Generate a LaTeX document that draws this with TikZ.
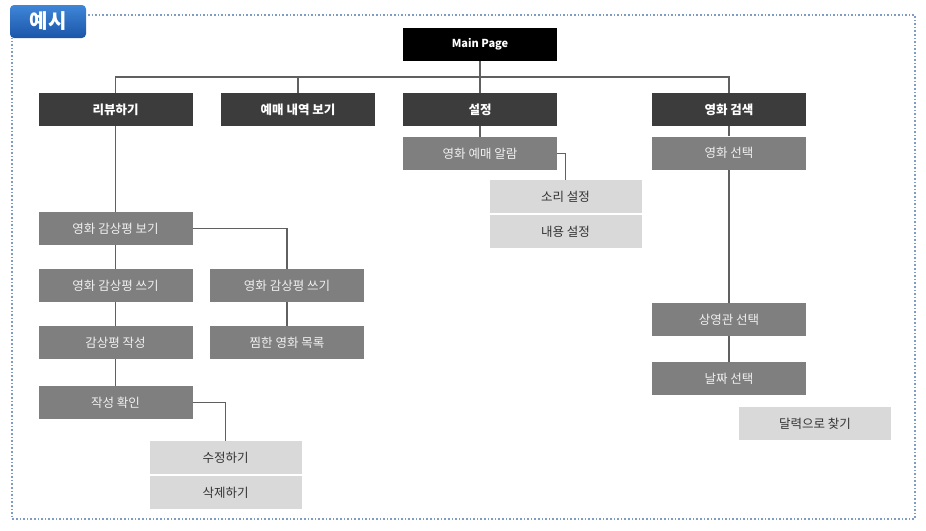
\documentclass[tikz,border=0pt]{standalone}
\usepackage{fontspec}
\setmainfont{Noto Sans CJK KR}
\usepackage{xcolor}
\usetikzlibrary{positioning}

\definecolor{darkbox}{HTML}{3C3C3C}
\definecolor{midbox}{HTML}{7F7F7F}
\definecolor{lightbox}{HTML}{D9D9D9}
\definecolor{linegray}{HTML}{606060}
\definecolor{framecol}{HTML}{7E9CC4}
\definecolor{tagtop}{HTML}{3F86D8}
\definecolor{tagbot}{HTML}{1B55A8}

\begin{document}
\begin{tikzpicture}[x=1pt, y=-1pt,
		box/.style={minimum width=154pt, minimum height=33pt, inner sep=0pt, font=\fontsize{12.5}{14}\selectfont},
		topbox/.style={box, fill=black, text=white, font=\fontsize{11}{13}\selectfont\bfseries},
		mainbox/.style={box, fill=darkbox, text=white, font=\fontsize{12.5}{14}\selectfont\bfseries},
		subbox/.style={box, fill=midbox, text=white!88!gray},
		leafbox/.style={box, minimum width=152pt, fill=lightbox, text=black!80},
		link/.style={draw=linegray, line width=1.3pt},
		frame/.style={draw=framecol, dotted, line width=1.6pt},
		tag/.style={minimum width=76pt, minimum height=33pt, inner sep=0pt, rounded corners=4pt,
			top color=tagtop, bottom color=tagbot, text=white, font=\fontsize{20}{22}\selectfont\bfseries}]
		\useasboundingbox (0,0) rectangle (926,530);
		% frame and tag
		\draw[frame] (88,15) -- (915,15) -- (915,519) -- (12,519) -- (12,38);
		\node[tag] (tag) at (48,21.5) {예시};
		% top levels
		\node[topbox] (main) at (480,44) {Main Page};
		\node[mainbox] (review) at (115.5,109.5) {리뷰하기};
		\node[mainbox] (booking) at (298,109.5) {예매 내역 보기};
		\node[mainbox] (settings) at (480,109.5) {설정};
		\node[mainbox] (search) at (729,109.5) {영화 검색};
		% settings branch
		\node[subbox] (alarm) at (480,153.5) {영화 예매 알람};
		\node[leafbox] (sound) at (565.5,196.5) {소리 설정};
		\node[leafbox] (content) at (565.5,231.5) {내용 설정};
		% search branch
		\node[subbox] (select) at (729,153) {영화 선택};
		\node[subbox] (theater) at (729,319.5) {상영관 선택};
		\node[subbox] (date) at (729,378.5) {날짜 선택};
		\node[leafbox] (calendar) at (815,423.5) {달력으로 찾기};
		% review branch
		\node[subbox] (view) at (115.5,228.5) {영화 감상평 보기};
		\node[subbox] (write) at (115.5,285.5) {영화 감상평 쓰기};
		\node[subbox] (compose) at (115.5,342.5) {감상평 작성};
		\node[subbox] (confirm) at (115.5,402.5) {작성 확인};
		\node[subbox] (write2) at (287,285.5) {영화 감상평 쓰기};
		\node[subbox] (wish) at (287,342.5) {찜한 영화 목록};
		\node[leafbox] (edit) at (225.5,457.5) {수정하기};
		\node[leafbox] (delete) at (225.5,492.5) {삭제하기};
		% connectors
		\coordinate (bus) at (480,77);
		\draw[link] (main) -- (bus);
		\draw[link] (review.north) |- (bus) -| (search.north);
		\draw[link] (booking.north) -- (booking.north |- bus);
		\draw[link] (settings) -- (bus);
		\draw[link] (settings) -- (alarm);
		\draw[link] (alarm.east) -| (sound.north);
		\draw[link] (search) -- (select);
		\draw[link] (select) -- (theater);
		\draw[link] (theater) -- (date);
		\draw[link] (review) -- (view);
		\draw[link] (view) -- (write);
		\draw[link] (write) -- (compose);
		\draw[link] (compose) -- (confirm);
		\draw[link] (view.east) -| (write2.north);
		\draw[link] (write2) -- (wish);
		\draw[link] (confirm.east) -| (edit.north);
	\end{tikzpicture}
\end{document}
